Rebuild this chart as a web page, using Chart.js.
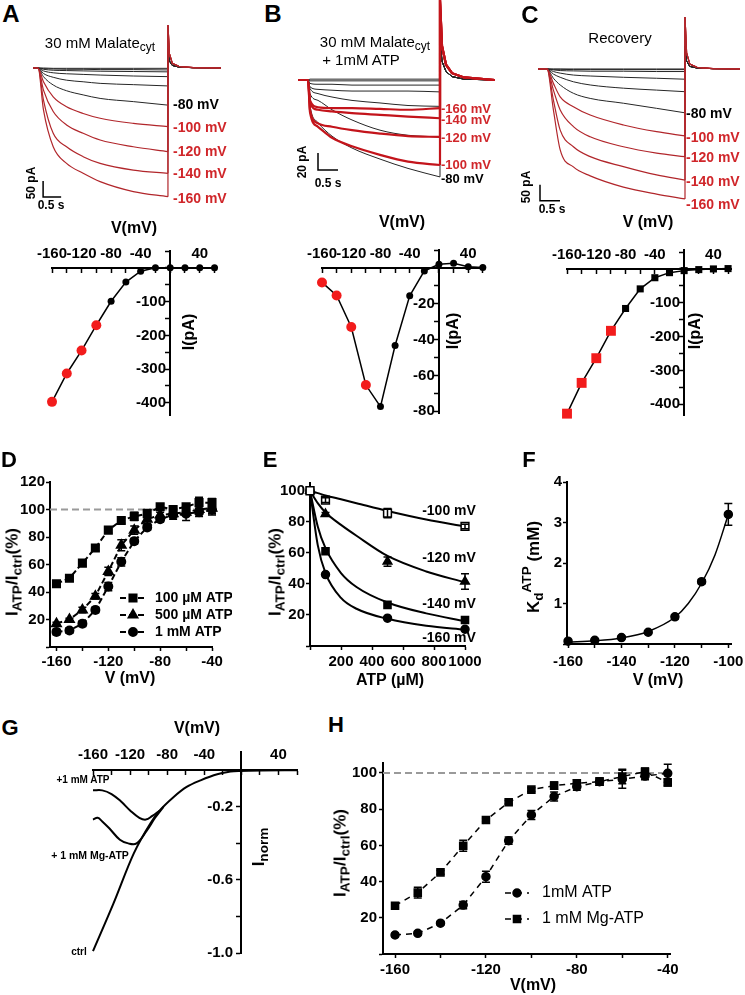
<!DOCTYPE html>
<html>
<head>
<meta charset="utf-8">
<script src="https://cdn.jsdelivr.net/npm/chart.js@4.4.1/dist/chart.umd.min.js"></script>
<style>
  html, body { margin: 0; padding: 0; background: #fff; }
  #fig { position: relative; width: 745px; height: 995px; overflow: hidden;
         font-family: "Liberation Sans", Arial, Helvetica, sans-serif; color: #000; }
  #fig canvas { position: absolute; }
  .lbl { position: absolute; white-space: nowrap; line-height: 1; }
  .lbl sub { font-size: 80%; vertical-align: -0.3em; line-height: 0; }
  .lbl sup { font-size: 80%; vertical-align: 0.55em; line-height: 0; }
</style>
</head>
<body>
<div id="fig"></div>
<script>
// ---------- A/B/C: current traces (pA) sampled along the voltage step (s) ----------
const aTime = [0, 0.15, 0.42, 0.79, 1.25, 1.72, 2.64, 3.6];
const aMv = [-160, -140, -120, -100, -80, -60, -40, -20, 0, 20];
const aCurrent = [
  [0, -131, -246, -298, -329, -355, -386, -402],
  [0, -100, -204, -246, -277, -298, -319, -329],
  [0, -69, -136, -178, -204, -225, -246, -261],
  [0, -43, -90, -121, -142, -157, -173, -183],
  [0, -27, -53, -71, -84, -95, -105, -116],
  [0, -17, -29, -38, -43, -48, -52, -56],
  [0, -9, -15, -18, -20, -22, -25, -27],
  [0, -4, -7, -8, -9, -10, -11, -12],
  [0, -2, -3, -4, -4, -5, -5, -6],
  [0, 0, -1, -1, -1, -1, -1, -1]
];
const aTailTime = [3.6, 3.64, 3.72, 3.9, 4.3, 5.07];
const aTailRed = [134, 45, 15, 5, 1, 0];
const aTailBlack = [60, 22, 8, 3, 1, 0];
const aBarTime = [0.14, 0.14, 0.64];      // 0.5 s
const aBarCurrent = [-353, -403, -403];   // 50 pA

const bTime = [0, 0.05, 0.25, 0.6, 1.1, 1.8, 2.5, 3.3];
const bMv = [-160, -140, -120, -100, -80, -60, -40, -20, 0, 20, 40];
const bCurrent = [
  [0, -24, -32, -33, -33, -34, -35, -33],
  [0, -27, -35, -37, -39, -41, -43, -45],
  [0, -35, -51, -55, -59, -63, -66, -67],
  [0, -38, -55, -68, -78, -88, -96, -100],
  [0, -30, -50, -66, -80, -93, -104, -114],
  [0, -16, -24, -35, -47, -59, -65, -67],
  [0, -10, -16, -20, -24, -27, -30, -31],
  [0, -8, -11, -12, -13, -13, -13, -14],
  [0, -4, -5, -5, -6, -6, -6, -6],
  [0, -1, -1, -1, -1, -1, -1, -1],
  [0, 1, 1, 1, 1, 1, 1, 1]
];
const bTailTime = [3.3, 3.35, 3.45, 3.6, 3.9, 4.675];
const bTailRed = [94, 40, 18, 8, 3, 0];
const bTailBlack = [50, 22, 10, 4, 1, 0];
const bBarTime = [0.25, 0.25, 0.75];      // 0.5 s
const bBarCurrent = [-86, -106, -106];    // 20 pA

const cTime = [0, 0.16, 0.33, 0.66, 1.08, 1.91, 2.74, 3.45];
const cMv = [-160, -140, -120, -100, -80, -60, -40, -20, 0, 20];
const cCurrent = [
  [0, -128, -253, -306, -334, -369, -391, -406],
  [0, -97, -191, -243, -274, -305, -331, -347],
  [0, -66, -128, -180, -212, -243, -263, -274],
  [0, -45, -87, -118, -144, -175, -196, -209],
  [0, -29, -50, -76, -92, -107, -123, -137],
  [0, -16, -26, -40, -50, -60, -66, -71],
  [0, -8, -13, -19, -22, -26, -29, -32],
  [0, -3, -5, -6, -7, -7, -8, -8],
  [0, -1, -1, -2, -2, -2, -2, -2],
  [0, 0, 0, 0, 0, 0, 0, 0]
];
const cTailTime = [3.45, 3.49, 3.57, 3.75, 4.15, 4.825];
const cTailRed = [162, 50, 15, 5, 1, 0];
const cTailBlack = [70, 25, 8, 3, 1, 0];
const cBarTime = [-0.175, -0.175, 0.325];
const cBarCurrent = [-362, -412, -412];

// ---------- A/B/C: I-V curves ----------
const ivMv = [-160, -140, -120, -100, -80, -60, -40, -20, 0, 20, 40, 60];
const ivA = [-397, -313, -245, -170, -99, -42, -10, 0, 0, 0, 0, 0];
const ivB = [-8.1, -15.4, -33, -65.4, -77.4, -43.3, -15.6, -1.7, 2.0, 2.6, 0.7, 0.2];
const ivC = [-428, -337, -264, -183, -117, -59, -26, -11, -5, -2, 0, 1];

// ---------- D ----------
const dMv = [-160, -150, -140, -130, -120, -110, -100, -90, -80, -70, -60, -50, -40];
const d100uM = [46, 50, 61, 72, 85, 92, 95, 97, 102, 100, 102, 105, 105];
const d500uM = [17, 20, 27, 37, 55, 74, 85, 93, 96, 97, 98, 100, 101];
const d1mM = [11, 12, 17, 27, 44, 62, 77, 87, 93, 96, 97, 98, 100];
const dErr100 = [2, 2, 2, 2, 2, 2, 3, 3, 2, 2, 2, 4, 3];
const dErr500 = [1, 1, 2, 2, 3, 4, 3, 3, 2, 4, 2, 3, 4];
const dErr1mM = [2, 2, 2, 2, 3, 3, 2, 2, 2, 2, 5, 3, 4];
const dRefMv = [-165, -40];
const refPct = [100, 100];

// ---------- E ----------
const eAtp = [0, 100, 500, 1000];
const e100 = [100, 94, 85.6, 77];
const e120 = [100, 85, 54.4, 41.5];
const e140 = [100, 61, 26.5, 16.8];
const e160 = [100, 46, 17.9, 10.8];
const eErr100 = [0, 1.5, 3, 1.5];
const eErr120 = [0, 1, 3, 5];
const eFitAtp = [0, 50, 100, 200, 300, 500, 750, 1000];
const eFit100 = [100, 98.5, 97, 94.5, 92, 87, 81.5, 77];
const eFit120 = [100, 92, 86, 78, 71, 58, 48, 41];
const eFit140 = [100, 77, 63, 47, 38, 28, 21, 16];
const eFit160 = [100, 65, 47, 31, 24, 17.5, 13, 10.5];

// ---------- F ----------
const fMv = [-160, -150, -140, -130, -120, -110, -100];
const fKd = [0.07, 0.09, 0.16, 0.29, 0.67, 1.54, 3.2];
const fErr = [0.02, 0.02, 0.03, 0.03, 0.05, 0.05, 0.27];
const fFitMv = [-160, -150, -140, -130, -120, -115, -110, -105, -100];
const fFitKd = [0.05, 0.08, 0.15, 0.31, 0.66, 1.0, 1.5, 2.2, 3.2];

// ---------- G: normalised ramp currents ----------
const gCtrlMv = [-160, -138, -116, -98, -88, -73, -59, -44, -26, -8, 60];
const gCtrl = [-0.99, -0.73, -0.455, -0.29, -0.22, -0.146, -0.091, -0.055, -0.022, -0.005, 0];
const gAtpMv = [-160, -150, -140, -130, -120, -110, -103, -96, -88];
const gAtp = [-0.11, -0.11, -0.13, -0.17, -0.22, -0.26, -0.27, -0.25, -0.22];
const gMgMv = [-160, -155, -150, -142, -131, -122, -113, -102, -93, -84];
const gMg = [-0.27, -0.26, -0.28, -0.32, -0.38, -0.40, -0.40, -0.33, -0.26, -0.20];

// ---------- H ----------
const hMv = [-160, -150, -140, -130, -120, -110, -100, -90, -80, -70, -60, -50, -40];
const hAtp = [10.5, 11.4, 17, 27, 42.7, 62.6, 76.8, 87, 92.4, 95.2, 96.5, 98.3, 99.8];
const hMgAtp = [26.7, 33.9, 45.1, 59.8, 74, 83.8, 90.8, 93, 94.3, 95.2, 98, 100.7, 94.8];
const hErrAtp = [1, 1, 1, 2, 3, 2, 2.5, 2.5, 2, 2, 5, 2, 5];
const hErrMg = [1, 3, 1, 3, 1, 1, 1, 2, 2, 2, 4, 2, 2];
const hRefMv = [-165.3, -39];

// ---------- helpers ----------
const fig = document.getElementById('fig');
const FONT = '"Liberation Sans", Arial, Helvetica, sans-serif';
Chart.defaults.font.family = FONT;
Chart.defaults.color = '#000';

const RED_TRACE = '#b1262b';
const RED_TRACE_B = '#c3141b';
const RED_LABEL = '#d0262a';
const RED_POINT = '#f21c1c';

const errorBars = {
  id: 'errorBars',
  afterDatasetsDraw(chart) {
    const {ctx} = chart;
    const x = chart.scales.x, y = chart.scales.y;
    chart.data.datasets.forEach(ds => {
      if (!ds.errors) return;
      ctx.save();
      ctx.strokeStyle = '#000';
      ctx.lineWidth = 1.5;
      ds.data.forEach((p, i) => {
        const e = ds.errors[i];
        if (!e) return;
        const px = x.getPixelForValue(p.x);
        const top = y.getPixelForValue(p.y + e), bot = y.getPixelForValue(p.y - e);
        ctx.beginPath();
        ctx.moveTo(px, top); ctx.lineTo(px, bot);
        ctx.moveTo(px - 4, top); ctx.lineTo(px + 4, top);
        ctx.moveTo(px - 4, bot); ctx.lineTo(px + 4, bot);
        ctx.stroke();
      });
      ctx.restore();
    });
  }
};

// legend drawn at page positions
function keyBox(items, font, half, gap) {
  return {
    id: 'keyBox',
    afterDraw(chart) {
      const ctx = chart.ctx;
      const ox = parseFloat(chart.canvas.style.left), oy = parseFloat(chart.canvas.style.top);
      ctx.save();
      items.forEach(it => {
        const ds = chart.data.datasets[it.ds];
        const cx = it.x - ox, cy = it.y - oy;
        ctx.strokeStyle = '#000';
        ctx.lineWidth = ds.borderWidth;
        ctx.setLineDash(ds.borderDash || []);
        ctx.beginPath(); ctx.moveTo(cx - half, cy); ctx.lineTo(cx + half, cy); ctx.stroke();
        ctx.setLineDash([]);
        ctx.fillStyle = '#000';
        Chart.helpers.drawPoint(ctx, {pointStyle: ds.pointStyle, radius: ds.pointRadius, rotation: 0, borderWidth: 1}, cx, cy);
        ctx.font = font;
        ctx.textBaseline = 'middle';
        ctx.textAlign = 'left';
        ctx.fillText(it.text, cx + gap, cy);
      });
      ctx.restore();
    }
  };
}

// box = page rectangle of the plotting area; pad = room round it for labels
function plot(box, pad, config, extra) {
  const [x0, y0, x1, y1] = box;
  const [pl, pt, pr, pb] = pad;
  const cv = document.createElement('canvas');
  const w = x1 - x0 + pl + pr, h = y1 - y0 + pt + pb;
  cv.width = w; cv.height = h;
  cv.style.left = (x0 - pl) + 'px';
  cv.style.top = (y0 - pt) + 'px';
  cv.style.width = w + 'px';
  cv.style.height = h + 'px';
  fig.appendChild(cv);
  const o = config.options;
  o.responsive = false;
  o.animation = false;
  o.devicePixelRatio = 1;
  const padding = {left: pl, top: pt, right: pr, bottom: pb};
  for (const id in o.scales) {
    const s = o.scales[id];
    const side = s.display === false ? null : s.position;
    if (side === 'left') padding.left = 0;
    if (side === 'bottom') padding.bottom = 0;
    // fixed axis sizes so the plotting area lands exactly on box
    s.afterFit = sc => {
      if (side === 'left') sc.width = pl;
      else if (side === 'bottom') sc.height = pb;
      else if (sc.isHorizontal()) sc.height = 0;
      else sc.width = 0;
      sc.paddingLeft = sc.paddingRight = sc.paddingTop = sc.paddingBottom = 0;
    };
  }
  o.layout = {padding};
  o.plugins = {legend: {display: false}, tooltip: {enabled: false}};
  config.plugins = [errorBars].concat(extra || []);
  return new Chart(cv, config);
}

function series(xs, ys, o) {
  return Object.assign({
    data: xs.map((v, i) => ({x: v, y: ys[i]})),
    borderColor: '#000', backgroundColor: '#000',
    borderWidth: 1.5, pointRadius: 0, pointHoverRadius: 0,
    clip: false, fill: false, tension: 0
  }, o || {});
}

function axis(id, min, max, step, labels, o) {
  o = o || {};
  const fmt = o.fmt || (v => String(v));
  return {
    type: 'linear', axis: id, min: min, max: max,
    position: o.position || (id === 'x' ? 'bottom' : 'left'),
    border: {display: true, color: '#000', width: 2},
    grid: {display: true, drawOnChartArea: false, drawTicks: true, tickLength: 4,
           tickColor: '#000', tickWidth: 1.5},
    ticks: {
      stepSize: step, includeBounds: false, autoSkip: false, maxRotation: 0, minRotation: 0,
      padding: o.pad === undefined ? 2 : o.pad, color: '#000',
      font: {size: o.size || 15, weight: 'bold'},
      callback: v => labels.some(l => Math.abs(l - v) < 1e-6) ? fmt(v) + (o.suffix || '') : ''
    }
  };
}

function traceChart(box, tMin, tMax, iMin, iMax, time, mv, cur, tailTime, tailRed, tailBlack, barT, barI, redCol, redW) {
  const datasets = [];
  mv.forEach((v, k) => {
    const red = v <= -100;
    const col = red ? redCol : '#262626';
    const w = red ? redW : 1;
    const ord = red ? 0 : 1;
    const last = cur[k][cur[k].length - 1];
    datasets.push(series([tMin].concat(time), [0].concat(cur[k]),
      {borderColor: col, borderWidth: w, cubicInterpolationMode: 'monotone', order: ord}));
    datasets.push(series([tailTime[0]].concat(tailTime), [last].concat(red ? tailRed : tailBlack),
      {borderColor: col, borderWidth: w, order: ord}));
  });
  datasets.push(series(barT, barI, {borderWidth: 1.5, order: 2}));
  return plot(box, [0, 0, 0, 0], {
    type: 'line', data: {datasets},
    options: {scales: {
      x: {type: 'linear', display: false, min: tMin, max: tMax},
      y: {type: 'linear', display: false, min: iMin, max: iMax}
    }}
  });
}

function ivChart(box, xMax, yMin, yMax, ys, yStep, yLabels, shape, rBlack, rRed) {
  const red = ivMv.map(v => v <= -100);
  const ds = series(ivMv, ys, {
    borderWidth: 1.5, pointStyle: shape,
    pointRadius: red.map(r => r ? rRed : rBlack),
    pointBackgroundColor: red.map(r => r ? RED_POINT : '#000'),
    pointBorderColor: red.map(r => r ? RED_POINT : '#000'),
    pointBorderWidth: 0
  });
  return plot(box, [50, 30, 20, 20], {
    type: 'line', data: {datasets: [ds]},
    options: {scales: {
      x: axis('x', -160, xMax, 20, [-160, -120, -80, -40, 40], {position: {y: 0}, pad: -27}),
      y: axis('y', yMin, yMax, yStep, yLabels, {position: {x: 0}, suffix: ' '})
    }}
  });
}

function txt(html, x, y, o) {
  o = o || {};
  const d = document.createElement('div');
  d.className = 'lbl';
  d.innerHTML = html;
  d.style.left = x + 'px';
  d.style.top = y + 'px';
  d.style.fontSize = (o.size || 14) + 'px';
  d.style.fontWeight = o.bold === false ? 'normal' : 'bold';
  if (o.color) d.style.color = o.color;
  let tf = o.left ? 'translate(0,-50%)' : 'translate(-50%,-50%)';
  if (o.rot) tf += ' rotate(' + o.rot + 'deg)';
  d.style.transform = tf;
  fig.appendChild(d);
}

// ---------- charts ----------
traceChart([33, 20, 221, 205], -0.14, 5.07, -428, 150, aTime, aMv, aCurrent,
  aTailTime, aTailRed, aTailBlack, aBarTime, aBarCurrent, RED_TRACE, 1.2);
traceChart([298, 0, 495, 185], -0.25, 4.675, -123.5, 94.1, bTime, bMv, bCurrent,
  bTailTime, bTailRed, bTailBlack, bBarTime, bBarCurrent, RED_TRACE_B, 2.2);
traceChart([538, 12, 740, 205], -0.225, 4.825, -425, 178, cTime, cMv, cCurrent,
  cTailTime, cTailRed, cTailBlack, cBarTime, cBarCurrent, RED_TRACE, 1.2);

ivChart([52, 251, 216, 415], 62, -436, 50, ivA, 50, [-100, -200, -300, -400], 'circle', 3.5, 5);
ivChart([322, 250, 485, 413], 63, -81, 10, ivB, 10, [-20, -40, -60, -80], 'circle', 3.5, 5);
ivChart([567, 250, 731, 415], 64, -432, 56, ivC, 50, [-100, -200, -300, -400], 'rect', 5, 7);

// D
plot([50, 482, 212, 647], [50, 20, 20, 40], {
  type: 'line',
  data: {datasets: [
    series(dMv, d100uM, {borderDash: [6, 3], borderWidth: 2, pointStyle: 'rect', pointRadius: 5, errors: dErr100}),
    series(dMv, d500uM, {borderDash: [6, 3], borderWidth: 2, pointStyle: 'triangle', pointRadius: 5, errors: dErr500}),
    series(dMv, d1mM, {borderDash: [6, 3], borderWidth: 2, pointStyle: 'circle', pointRadius: 4, errors: dErr1mM}),
    series(dRefMv, refPct, {borderColor: '#9a9a9a', borderDash: [7, 4], borderWidth: 2, order: 5})
  ]},
  options: {scales: {
    x: axis('x', -165, -40, 20, [-160, -120, -80, -40], {pad: 2}),
    y: axis('y', 0, 120, 20, [20, 40, 60, 80, 100, 120], {pad: 1})
  }}
}, [keyBox([
  {ds: 0, x: 133, y: 598, text: '100 µM ATP'},
  {ds: 1, x: 133, y: 615, text: '500 µM ATP'},
  {ds: 2, x: 133, y: 632, text: '1 mM ATP'}
], 'bold 14px ' + FONT, 13, 22)]);

// E
plot([310, 483, 465, 646], [45, 20, 27, 40], {
  type: 'line',
  data: {datasets: [
    series(eFitAtp, eFit100, {borderWidth: 2, cubicInterpolationMode: 'monotone'}),
    series(eFitAtp, eFit120, {borderWidth: 2, cubicInterpolationMode: 'monotone'}),
    series(eFitAtp, eFit140, {borderWidth: 2, cubicInterpolationMode: 'monotone'}),
    series(eFitAtp, eFit160, {borderWidth: 2, cubicInterpolationMode: 'monotone'}),
    series(eAtp, e100, {showLine: false, pointStyle: 'rect', pointRadius: 5.5, pointBackgroundColor: '#fff',
      pointBorderColor: '#000', pointBorderWidth: 1.5, errors: eErr100, order: -1}),
    series(eAtp, e120, {showLine: false, pointStyle: 'triangle', pointRadius: 5, errors: eErr120, order: -1}),
    series(eAtp, e140, {showLine: false, pointStyle: 'rect', pointRadius: 5, order: -1}),
    series(eAtp, e160, {showLine: false, pointStyle: 'circle', pointRadius: 4, order: -1})
  ]},
  options: {scales: {
    x: axis('x', 0, 1000, 200, [200, 400, 600, 800, 1000], {pad: 3}),
    y: axis('y', 0, 105, 20, [20, 40, 60, 80, 100], {pad: 1})
  }}
});

// F
plot([567, 482, 731, 644], [30, 20, 15, 40], {
  type: 'line',
  data: {datasets: [
    series(fMv, fKd, {showLine: false, pointStyle: 'circle', pointRadius: 4, errors: fErr}),
    series(fFitMv, fFitKd, {borderWidth: 1.5, cubicInterpolationMode: 'monotone'})
  ]},
  options: {scales: {
    x: axis('x', -160.4, -99, 10, [-160, -140, -120, -100], {pad: 5}),
    y: axis('y', 0, 4, 1, [1, 2, 3, 4], {pad: 1})
  }}
});

// G
plot([93, 752, 297, 953], [60, 30, 20, 20], {
  type: 'line',
  data: {datasets: [
    series(gCtrlMv, gCtrl, {borderWidth: 2, cubicInterpolationMode: 'monotone'}),
    series(gAtpMv, gAtp, {borderWidth: 2, tension: 0.4}),
    series(gMgMv, gMg, {borderWidth: 2, tension: 0.4})
  ]},
  options: {scales: {
    x: axis('x', -160, 60, 20, [-160, -120, -80, -40, 40], {position: {y: 0}, pad: -28}),
    y: axis('y', -1.0, 0.1, 0.2, [-0.2, -0.6, -1.0], {position: {x: 0}, suffix: '  ', fmt: v => v.toFixed(1)})
  }}
});

// H
plot([383, 763, 670, 954], [45, 20, 20, 40], {
  type: 'line',
  data: {datasets: [
    series(hMv, hAtp, {borderDash: [6, 5], borderWidth: 1.5, pointStyle: 'circle', pointRadius: 4, errors: hErrAtp}),
    series(hMv, hMgAtp, {borderDash: [6, 5], borderWidth: 1.5, pointStyle: 'rect', pointRadius: 5, errors: hErrMg}),
    series(hRefMv, refPct, {borderColor: '#9a9a9a', borderDash: [7, 4], borderWidth: 2, order: 5})
  ]},
  options: {scales: {
    x: axis('x', -165.3, -39, 20, [-160, -120, -80, -40], {pad: 3}),
    y: axis('y', 0, 105.5, 20, [20, 40, 60, 80, 100], {pad: 2})
  }}
}, [keyBox([
  {ds: 0, x: 517, y: 893, text: '1mM ATP'},
  {ds: 1, x: 517, y: 919, text: '1 mM Mg-ATP'}
], '16px ' + FONT, 12, 25)]);

// ---------- text ----------
txt('A', 11, 14, {size: 24}); txt('B', 273, 14, {size: 24}); txt('C', 530, 15, {size: 24});
txt('D', 9, 460, {size: 22}); txt('E', 270, 460, {size: 22}); txt('F', 529, 460, {size: 22});
txt('G', 10, 728, {size: 22}); txt('H', 336, 725, {size: 22});

txt('30 mM Malate<sub>cyt</sub>', 100, 42, {size: 15, bold: false});
txt('30 mM Malate<sub>cyt</sub>', 375, 41, {size: 15, bold: false});
txt('+ 1mM ATP', 361, 59, {size: 15, bold: false});
txt('Recovery', 620, 37, {size: 15, bold: false});

[['-80 mV', 104, '#000'], ['-100 mV', 127, RED_LABEL], ['-120 mV', 151, RED_LABEL],
 ['-140 mV', 173, RED_LABEL], ['-160 mV', 198, RED_LABEL]]
  .forEach(l => txt(l[0], 173, l[1], {size: 14, color: l[2], left: true}));
[['-160 mV', 108, RED_LABEL], ['-140 mV', 119, RED_LABEL], ['-120 mV', 137, RED_LABEL],
 ['-100 mV', 164, RED_LABEL], ['-80 mV', 178, '#000']]
  .forEach(l => txt(l[0], 441, l[1], {size: 13, color: l[2], left: true}));
[['-80 mV', 113, '#000'], ['-100 mV', 137, RED_LABEL], ['-120 mV', 157, RED_LABEL],
 ['-140 mV', 181, RED_LABEL], ['-160 mV', 204, RED_LABEL]]
  .forEach(l => txt(l[0], 686, l[1], {size: 14, color: l[2], left: true}));

txt('50 pA', 31, 183, {size: 12, rot: -90}); txt('0.5 s', 51, 205, {size: 12});
txt('20 pA', 302, 162, {size: 12, rot: -90}); txt('0.5 s', 328, 183, {size: 12});
txt('50 pA', 526, 187, {size: 12, rot: -90}); txt('0.5 s', 552, 209, {size: 12});

txt('V(mV)', 134, 228, {size: 16}); txt('I(pA)', 189, 332, {size: 16, rot: -90});
txt('V(mV)', 402, 222, {size: 16}); txt('I(pA)', 453, 331, {size: 16, rot: -90});
txt('V (mV)', 648, 222, {size: 16}); txt('I(pA)', 695, 331, {size: 16, rot: -90});

txt('I<sub>ATP</sub>/I<sub>ctrl</sub>(%)', 12, 572, {size: 17, rot: -90});
txt('V (mV)', 130, 678, {size: 16});
txt('I<sub>ATP</sub>/I<sub>ctrl</sub>(%)', 275, 572, {size: 17, rot: -90});
txt('ATP (µM)', 390, 680, {size: 16});
[['-100 mV', 510], ['-120 mV', 557], ['-140 mV', 603], ['-160 mV', 637]]
  .forEach(l => txt(l[0], 449, l[1], {size: 14}));
txt('K<sub>d</sub><sup>ATP</sup> (mM)', 533, 567, {size: 17, rot: -90});
txt('V (mV)', 658, 680, {size: 16});

txt('V(mV)', 197, 728, {size: 16});
txt('I<sub>norm</sub>', 258, 847, {size: 17, rot: -90});
txt('+1 mM ATP', 83, 780, {size: 10});
txt('+ 1 mM Mg-ATP', 90, 855, {size: 10.5});
txt('ctrl', 79, 952, {size: 10});

txt('I<sub>ATP</sub>/I<sub>ctrl</sub>(%)', 340, 853, {size: 17, rot: -90});
txt('V(mV)', 533, 985, {size: 16});
</script>
</body>
</html>
